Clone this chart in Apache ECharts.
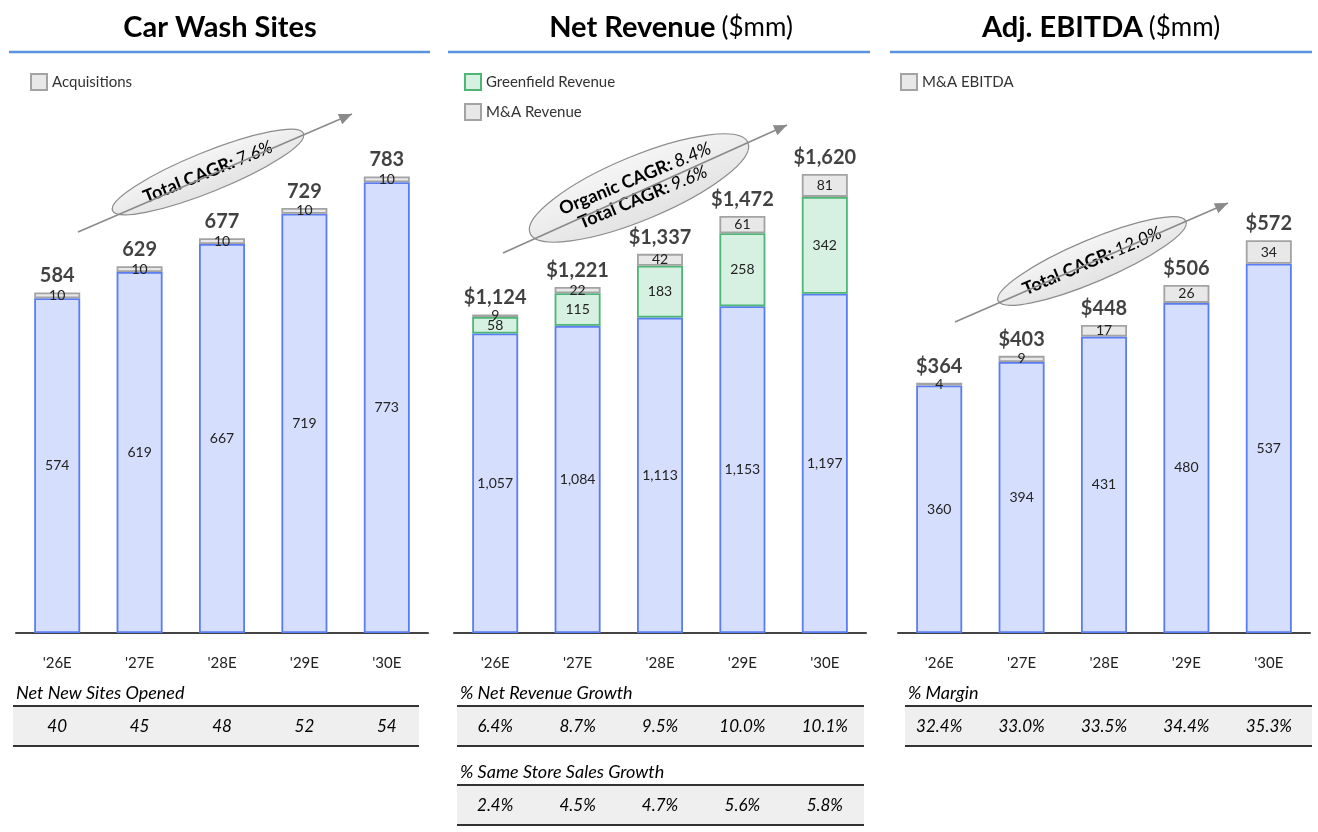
<!DOCTYPE html>
<html>
<head>
<meta charset="utf-8">
<script src="https://cdn.jsdelivr.net/npm/echarts@6/dist/echarts.min.js"></script>
<style>
  html, body { margin: 0; padding: 0; background: #fff; }
  #chart { width: 1318px; height: 832px; }
</style>
</head>
<body>
<div id="chart"></div>
<script>
const years = ["'26E", "'27E", "'28E", "'29E", "'30E"]

// Car Wash Sites
const siteBase = [574, 619, 667, 719, 773]
const siteAcq = [10, 10, 10, 10, 10]
const siteTotal = [584, 629, 677, 729, 783]
const netNewSites = ['40', '45', '48', '52', '54']

// Net Revenue ($mm)
const revBase = [1057, 1084, 1113, 1153, 1197]
const revGreenfield = [58, 115, 183, 258, 342]
const revMA = [9, 22, 42, 61, 81]
const revTotal = [1124, 1221, 1337, 1472, 1620]
const revGrowth = ['6.4%', '8.7%', '9.5%', '10.0%', '10.1%']
const sssGrowth = ['2.4%', '4.5%', '4.7%', '5.6%', '5.8%']

// Adj. EBITDA ($mm)
const ebitdaBase = [360, 394, 431, 480, 537]
const ebitdaMA = [4, 9, 17, 26, 34]
const ebitdaTotal = [364, 403, 448, 506, 572]
const ebitdaMargin = ['32.4%', '33.0%', '33.5%', '34.4%', '35.3%']

const FONT = 'Lato, "Open Sans", sans-serif'
const BLUE = { color: '#d5defd', borderColor: '#5a7df3', borderWidth: 1.8 }
const GREEN = { color: '#d6f1e1', borderColor: '#4db676', borderWidth: 1.8 }
const GRAY = { color: '#e8e8e8', borderColor: '#a3a3a3', borderWidth: 1.8 }

const chart = echarts.init(document.getElementById('chart'))

const fmt = v => v.toLocaleString('en-US')

function insideLabel() {
  return {
    show: true,
    position: 'inside',
    fontSize: 14,
    fontFamily: FONT,
    color: '#222',
    formatter: p => fmt(p.value)
  }
}

function barSeries(name, data, style, idx) {
  return {
    name: name,
    type: 'bar',
    stack: 'panel' + idx,
    xAxisIndex: idx,
    yAxisIndex: idx,
    barWidth: 46,
    data: data,
    itemStyle: style,
    label: insideLabel(),
    silent: true
  }
}

// invisible points at the stack tops that carry the total labels
function totalSeries(data, idx, prefix) {
  return {
    type: 'scatter',
    xAxisIndex: idx,
    yAxisIndex: idx,
    data: data,
    symbolSize: 1,
    itemStyle: { color: 'transparent' },
    silent: true,
    label: {
      show: true,
      position: 'top',
      distance: 6,
      fontSize: 20,
      fontWeight: 'bold',
      fontFamily: FONT,
      color: '#111',
      formatter: p => prefix + fmt(p.value)
    }
  }
}

const gridLefts = [16, 454, 898]
const yMaxes = [914, 1881, 775]

const legendText = { fontSize: 15, color: '#333', fontFamily: FONT }

const option = {
  animation: false,
  textStyle: { fontFamily: FONT },
  grid: gridLefts.map(l => ({ left: l, top: 100, width: 412, height: 533 })),
  xAxis: gridLefts.map((l, i) => ({
    type: 'category',
    gridIndex: i,
    data: years,
    axisLine: { lineStyle: { color: '#444', width: 2 } },
    axisTick: { show: false },
    axisLabel: { fontSize: 15, color: '#222', margin: 23, fontFamily: FONT }
  })),
  yAxis: yMaxes.map((m, i) => ({
    type: 'value', gridIndex: i, min: 0, max: m, show: false
  })),
  legend: [
    {
      data: ['Acquisitions'], left: 25, top: 68,
      itemWidth: 16, itemHeight: 16, icon: 'rect', selectedMode: false,
      textStyle: legendText
    },
    {
      data: ['Greenfield Revenue', 'M&A Revenue'], left: 459, top: 68, orient: 'vertical',
      itemWidth: 16, itemHeight: 16, itemGap: 12, icon: 'rect', selectedMode: false,
      textStyle: legendText
    },
    {
      data: ['M&A EBITDA'], left: 895, top: 68,
      itemWidth: 16, itemHeight: 16, icon: 'rect', selectedMode: false,
      textStyle: legendText
    }
  ],
  series: [
    barSeries('Sites', siteBase, BLUE, 0),
    barSeries('Acquisitions', siteAcq, GRAY, 0),
    totalSeries(siteTotal, 0, ''),
    barSeries('Revenue', revBase, BLUE, 1),
    barSeries('Greenfield Revenue', revGreenfield, GREEN, 1),
    barSeries('M&A Revenue', revMA, GRAY, 1),
    totalSeries(revTotal, 1, '$'),
    barSeries('EBITDA', ebitdaBase, BLUE, 2),
    barSeries('M&A EBITDA', ebitdaMA, GRAY, 2),
    totalSeries(ebitdaTotal, 2, '$')
  ]
}

chart.setOption(option)

// ---- decorations: titles, CAGR bubbles, tables ----
const graphics = []

function addText(x, y, text, rich, align) {
  graphics.push({
    type: 'text', x: x, y: y, z: 10,
    style: {
      text: text, rich: rich,
      textAlign: align || 'center', align: align || 'center',
      textVerticalAlign: 'middle', verticalAlign: 'middle'
    }
  })
}

function addLine(x1, y1, x2, y2, color, width, z) {
  graphics.push({
    type: 'line', z: z || 5,
    shape: { x1: x1, y1: y1, x2: x2, y2: y2 },
    style: { stroke: color, lineWidth: width }
  })
}

const titleRich = {
  b: { fontSize: 29, fontWeight: 'bold', fontFamily: FONT, color: '#111' },
  r: { fontSize: 26, fontFamily: FONT, color: '#111', padding: [0, 0, 0, 6] }
}
addText(220, 28, '{b|Car Wash Sites}', titleRich)
addText(671, 28, '{b|Net Revenue}{r|($mm)}', titleRich)
addText(1101, 28, '{b|Adj. EBITDA}{r|($mm)}', titleRich)
addLine(9, 52, 430, 52, '#5a94e0', 2.5)
addLine(448, 52, 870, 52, '#5a94e0', 2.5)
addLine(890, 52, 1312, 52, '#5a94e0', 2.5)

// arrows with CAGR ellipses
function addArrow(x1, y1, x2, y2) {
  addLine(x1, y1, x2, y2, '#8a8a8a', 1.5, 3)
  const ang = Math.atan2(y2 - y1, x2 - x1)
  const len = 13, hw = 5.5
  const bx = x2 - len * Math.cos(ang), by = y2 - len * Math.sin(ang)
  graphics.push({
    type: 'polygon', z: 3,
    shape: {
      points: [
        [x2, y2],
        [bx + hw * Math.sin(ang), by - hw * Math.cos(ang)],
        [bx - hw * Math.sin(ang), by + hw * Math.cos(ang)]
      ]
    },
    style: { fill: '#8a8a8a' }
  })
}

const cagrRich = {
  b: { fontSize: 18, fontWeight: 'bold', fontFamily: FONT, color: '#222', lineHeight: 20 },
  r: { fontSize: 18, fontStyle: 'italic', fontFamily: FONT, color: '#222', lineHeight: 20 }
}

function addBubble(cx, cy, rx, ry, deg, text) {
  graphics.push({
    type: 'group', x: cx, y: cy, rotation: deg * Math.PI / 180, z: 6,
    children: [
      {
        type: 'ellipse',
        shape: { cx: 0, cy: 0, rx: rx, ry: ry },
        style: {
          fill: new echarts.graphic.LinearGradient(0, 0, 0, 1, [
            { offset: 0, color: '#f5f5f5' },
            { offset: 1, color: '#e3e3e3' }
          ]),
          stroke: '#8c8c8c', lineWidth: 1.2
        }
      },
      {
        type: 'text', x: 0, y: 0,
        style: {
          text: text, rich: cagrRich,
          textAlign: 'center', align: 'center',
          textVerticalAlign: 'middle', verticalAlign: 'middle'
        }
      }
    ]
  })
}

addArrow(78, 232, 352, 114)
addBubble(208, 172, 103, 20, 22, '{b|Total CAGR:} {r|7.6%}')
addArrow(503, 253, 787, 125)
addBubble(639, 188, 118, 32, 22.6, '{b|Organic CAGR:} {r|8.4%}\n{b|Total CAGR:} {r|9.6%}')
addArrow(955, 322, 1228, 203)
addBubble(1092, 261, 102, 21, 23, '{b|Total CAGR:} {r|12.0%}')

// tables below the axes
const captionRich = { i: { fontSize: 18, fontStyle: 'italic', fontFamily: FONT, color: '#111' } }
const valueRich = { i: { fontSize: 17, fontStyle: 'italic', fontFamily: FONT, color: '#222' } }

function addTable(axisIdx, x1, x2, top, caption, values) {
  addText(x1 + 3, top - 13, '{i|' + caption + '}', captionRich, 'left')
  graphics.push({
    type: 'rect', z: 1,
    shape: { x: x1, y: top, width: x2 - x1, height: 40 },
    style: { fill: '#efefef' }
  })
  addLine(x1, top, x2, top, '#333', 2)
  addLine(x1, top + 40, x2, top + 40, '#333', 2)
  values.forEach((v, j) => {
    const px = chart.convertToPixel({ xAxisIndex: axisIdx }, years[j])
    addText(px, top + 21, '{i|' + v + '}', valueRich)
  })
}

addTable(0, 13, 419, 706, 'Net New Sites Opened', netNewSites)
addTable(1, 457, 864, 706, '% Net Revenue Growth', revGrowth)
addTable(1, 457, 864, 785, '% Same Store Sales Growth', sssGrowth)
addTable(2, 905, 1312, 706, '% Margin', ebitdaMargin)

chart.setOption({ graphic: graphics })

window.addEventListener('resize', () => chart.resize())
</script>
</body>
</html>
